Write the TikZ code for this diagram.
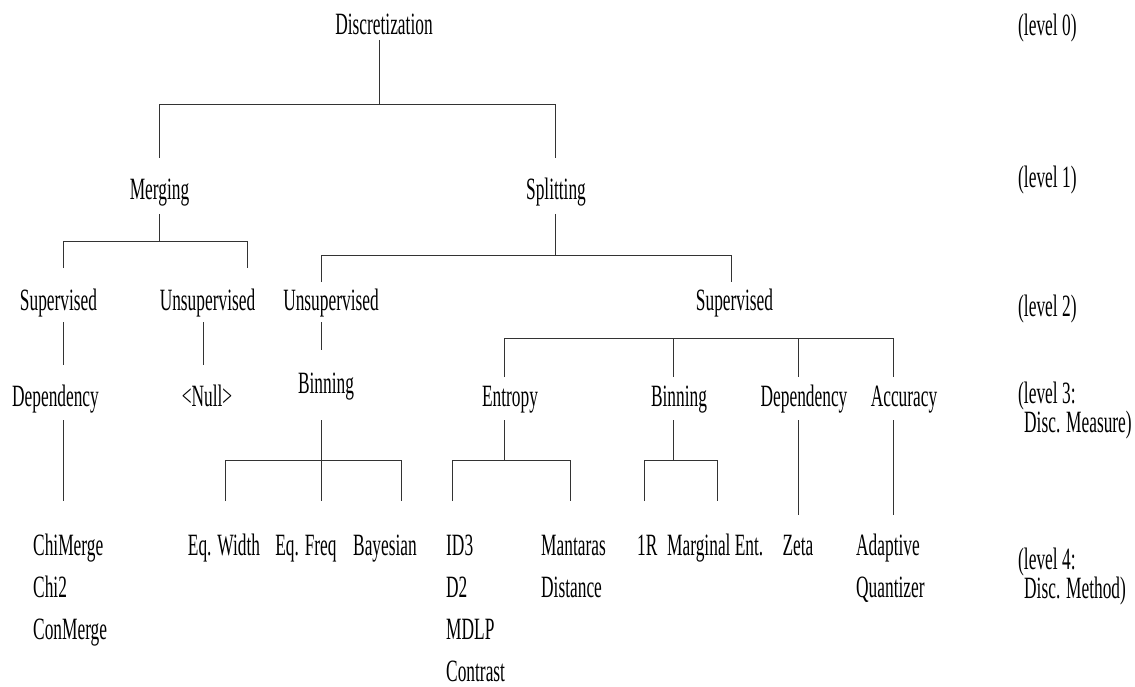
\documentclass[tikz,border=0pt]{standalone}
\usepackage{fontspec}
\setmainfont{Liberation Serif}[FakeStretch=0.56]
\begin{document}
\begin{tikzpicture}[x=1pt,y=-1pt,
  every node/.style={inner sep=0pt, font=\fontsize{31}{36}\selectfont},
  lbl/.style={anchor=base},
  lblw/.style={anchor=base west},
  lvl/.style={anchor=north west, align=left},
  ln/.style={line width=0.8pt, draw=black!80}]
\useasboundingbox (0,0) rectangle (1135,687);
% level 0
\node[lbl] (disc) at (384,35) {Discretization};
\node[lblw] (lv0) at (1018,36) {(level 0)};
% level 1
\node[lbl] (merg) at (159.5,200) {Merging};
\node[lbl] (split) at (556,200) {Splitting};
\node[lblw] (lv1) at (1018,188) {(level 1)};
% level 2
\node[lbl] (msup) at (58.5,310) {Supervised};
\node[lbl] (munsup) at (207.5,310) {Unsupervised};
\node[lbl] (sunsup) at (331,310) {Unsupervised};
\node[lbl] (ssup) at (734.5,310) {Supervised};
\node[lblw] (lv2) at (1018,316) {(level 2)};
% level 3
\node[lbl] (mdep) at (55.5,406) {Dependency};
\node[lbl] (null) at (207,406) {<Null>};
\node[lbl] (ubin) at (326,393) {Binning};
\node[lbl] (ent) at (510,406) {Entropy};
\node[lbl] (sbin) at (679,406) {Binning};
\node[lbl] (sdep) at (804,406) {Dependency};
\node[lbl] (acc) at (904,406) {Accuracy};
\node[lvl] (lv3) at (1018,381.5) {(level 3:\\[-7pt]\hspace*{6pt}Disc. Measure)};
% level 4
\node[lblw] (chim) at (33,555) {ChiMerge};
\node[lblw] (chi2) at (33,597) {Chi2};
\node[lblw] (conm) at (33,639) {ConMerge};
\node[lbl] (eqw) at (224,555) {Eq. Width};
\node[lbl] (eqf) at (306,555) {Eq. Freq};
\node[lbl] (bay) at (385,555) {Bayesian};
\node[lblw] (id3) at (446,555) {ID3};
\node[lblw] (d2) at (446,597) {D2};
\node[lblw] (mdlp) at (446,639) {MDLP};
\node[lblw] (contr) at (446,681) {Contrast};
\node[lblw] (mant) at (541,555) {Mantaras};
\node[lblw] (dist) at (541,597) {Distance};
\node[lblw] (oner) at (637,555) {1R};
\node[lblw] (marg) at (667,555) {Marginal Ent.};
\node[lbl] (zeta) at (798,555) {Zeta};
\node[lblw] (adap) at (856,555) {Adaptive};
\node[lblw] (quan) at (856,597) {Quantizer};
\node[lvl] (lv4) at (1018,547.5) {(level 4:\\[-7pt]\hspace*{6pt}Disc. Method)};
% connectors
\draw[ln] (379,40) -- (379,104);
\draw[ln] (159,158) -- (159,104) -- (555,104) -- (555,158);
\draw[ln] (159,214) -- (159,241);
\draw[ln] (63,268) -- (63,241) -- (247,241) -- (247,268);
\draw[ln] (555,214) -- (555,255);
\draw[ln] (321,282) -- (321,255) -- (731,255) -- (731,282);
\draw[ln] (63,322) -- (63,365);
\draw[ln] (203,322) -- (203,365);
\draw[ln] (321,322) -- (321,350);
\draw[ln] (504,377) -- (504,338) -- (893,338) -- (893,377);
\draw[ln] (673,338) -- (673,377);
\draw[ln] (798,338) -- (798,377);
\draw[ln] (63,420) -- (63,501);
\draw[ln] (321,420) -- (321,501);
\draw[ln] (225,501) -- (225,460) -- (401,460) -- (401,501);
\draw[ln] (504,420) -- (504,460);
\draw[ln] (452,501) -- (452,460) -- (570,460) -- (570,501);
\draw[ln] (673,420) -- (673,460);
\draw[ln] (644,501) -- (644,460) -- (717,460) -- (717,501);
\draw[ln] (798,420) -- (798,515);
\draw[ln] (893,420) -- (893,515);
\end{tikzpicture}
\end{document}
